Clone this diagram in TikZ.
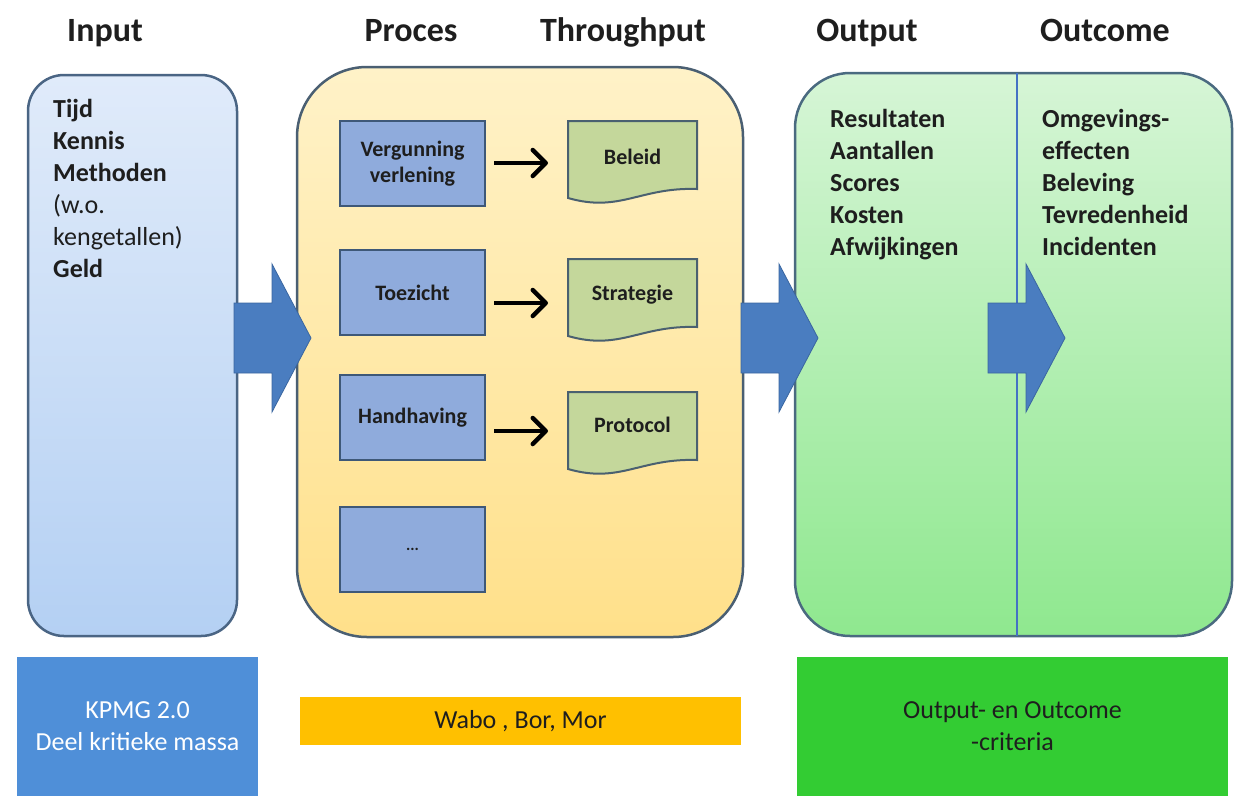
\documentclass[tikz,border=0pt]{standalone}
\usepackage{fontspec}
\setmainfont{Carlito}
\usetikzlibrary{arrows.meta}
\definecolor{inTop}{HTML}{E0EBFA}
\definecolor{inBot}{HTML}{B4D0F3}
\definecolor{inLine}{HTML}{4A6584}
\definecolor{prTop}{HTML}{FFF2C8}
\definecolor{prBot}{HTML}{FFE08A}
\definecolor{prLine}{HTML}{4A5F72}
\definecolor{ouTop}{HTML}{D6F5D6}
\definecolor{ouBot}{HTML}{8FE88F}
\definecolor{ouLine}{HTML}{4A6A80}
\definecolor{divBlue}{HTML}{4472C4}
\definecolor{boxBlue}{HTML}{8FABDC}
\definecolor{boxLine}{HTML}{3E5878}
\definecolor{docGreen}{HTML}{C4D79B}
\definecolor{docLine}{HTML}{4A6070}
\definecolor{bigArrow}{HTML}{4A7DC0}
\definecolor{bigArrowLine}{HTML}{3A66A0}
\definecolor{footBlue}{HTML}{4F8FD8}
\definecolor{footOrange}{HTML}{FFC000}
\definecolor{footGreen}{HTML}{33CC33}
\definecolor{txt}{HTML}{1E1E1E}
\tikzset{
  header/.style={font=\fontsize{34}{36}\selectfont\bfseries, text=txt, inner sep=0pt, anchor=base},
  bigbox/.style={draw, line width=2.5pt, rounded corners=#1},
  listtxt/.style={font=\fontsize{26}{32}\selectfont\bfseries, text=txt, align=left, inner sep=0pt, anchor=north west},
  procbox/.style={draw=boxLine, line width=2pt, fill=boxBlue, minimum width=145pt, minimum height=85pt, inner sep=0pt,
     font=\fontsize{22}{26}\selectfont\bfseries, text=txt, align=center},
  docfill/.style={draw=docLine, line width=2pt, fill=docGreen},
  doctxt/.style={font=\fontsize{22}{26}\selectfont\bfseries, text=txt, inner sep=0pt},
  smallarr/.style={line width=4.5pt, -{Straight Barb[length=13pt,width=26pt,line width=4.5pt,round]}},
  bigarr/.style={fill=bigArrow, draw=bigArrowLine, line width=0.8pt},
  foot/.style={inner sep=0pt, font=\fontsize{26}{32}\selectfont, align=center},
}
\newcommand\docshape[2]{\begin{scope}[shift={(#1,#2)}]
  \filldraw[docfill] (0,0) -- (129,0) -- (129,68) .. controls (72,66) and (52,92) .. (0,77) -- cycle;
\end{scope}}
\newcommand\bigarrowat[1]{\begin{scope}[shift={(#1,0)}]
  \filldraw[bigarr] (0,303) -- (38,303) -- (38,264) -- (77,338) -- (38,412) -- (38,373) -- (0,373) -- cycle;
\end{scope}}
\begin{document}
\begin{tikzpicture}[x=1pt,y=-1pt]
\useasboundingbox (0,0) rectangle (1237,796);
\fill[white] (0,0) rectangle (1237,796);

% headers
\node[header] (hInput) at (105,41) {Input};
\node[header] (hProces) at (411,41) {Proces};
\node[header] (hThrough) at (623,41) {Throughput};
\node[header] (hOutput) at (867,41) {Output};
\node[header] (hOutcome) at (1105,41) {Outcome};

% big boxes
\node[bigbox=36pt, draw=inLine, top color=inTop, bottom color=inBot, minimum width=209pt, minimum height=561pt] (input) at (132.5,355.5) {};
\node[bigbox=70pt, draw=prLine, top color=prTop, bottom color=prBot, minimum width=446pt, minimum height=570pt] (proces) at (520,352) {};
\node[bigbox=55pt, draw=ouLine, top color=ouTop, bottom color=ouBot, minimum width=437pt, minimum height=563pt] (output) at (1013.5,354.5) {};
\coordinate (divx) at (1017,0);
\draw[divBlue, line width=2.5pt] ([yshift=-1.5pt]output.north -| divx) -- ([yshift=1.5pt]output.south -| divx);

% input list
\node[listtxt] (inlist) at (53,99) {Tijd\\Kennis\\Methoden\\\mdseries(w.o.\\\mdseries kengetallen)\\Geld};

% output / outcome lists
\node[listtxt] (outlist) at (830,109) {Resultaten\\Aantallen\\Scores\\Kosten\\Afwijkingen};
\node[listtxt] (outclist) at (1042,109) {Omgevings-\\effecten\\Beleving\\Tevredenheid\\Incidenten};

% process boxes
\node[procbox] (verg) at (412.5,163.5) {Vergunning\\verlening};
\node[procbox] (toez) at (412.5,292.5) {Toezicht};
\node[procbox] (handh) at (412.5,417.5) {\raisebox{4pt}{Handhaving}};
\node[procbox] (dots) at (412.5,549.5) {\fontsize{16}{18}\selectfont...};

% documents
\docshape{568}{121}
\docshape{568}{259}
\docshape{568}{392}
\node[doctxt] (beleid) at (632.5,157) {Beleid};
\node[doctxt] (strategie) at (632.5,295) {Strategie};
\node[doctxt] (protocol) at (632.5,425) {Protocol};
\coordinate (beleidw) at (568,163);
\coordinate (strategiew) at (568,303);
\coordinate (protocolw) at (568,431);

% small arrows
\draw[smallarr, shorten <=8pt, shorten >=20pt] (verg.east |- beleidw) -- (beleidw);
\draw[smallarr, shorten <=8pt, shorten >=20pt] (toez.east |- strategiew) -- (strategiew);
\draw[smallarr, shorten <=8pt, shorten >=20pt] (handh.east |- protocolw) -- (protocolw);

% big arrows
\bigarrowat{234}
\bigarrowat{741}
\bigarrowat{988}

% footer boxes
\node[foot, fill=footBlue, text=white, minimum width=241pt, minimum height=139pt] (kpmg) at (137.5,726.5) {KPMG 2.0\\Deel kritieke massa};
\node[foot, fill=footOrange, text=txt, minimum width=441pt, minimum height=48pt] (wabo) at (520.5,721) {Wabo , Bor, Mor};
\node[foot, fill=footGreen, text=txt, minimum width=431pt, minimum height=139pt] (crit) at (1012.5,726.5) {Output- en Outcome\\-criteria};
\end{tikzpicture}
\end{document}
